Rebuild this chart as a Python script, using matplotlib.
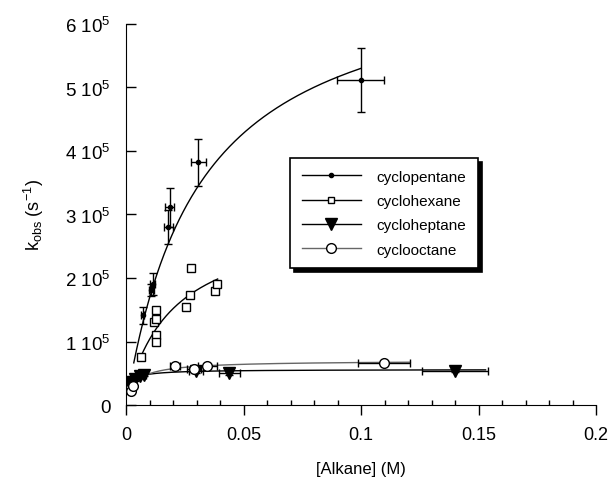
import numpy as np
import matplotlib
matplotlib.use("Agg")
import matplotlib.pyplot as plt
from matplotlib import ticker
from matplotlib.lines import Line2D

plt.rcParams['font.family'] = ['Liberation Sans', 'DejaVu Sans']
plt.rcParams['mathtext.fontset'] = 'custom'
plt.rcParams['mathtext.rm'] = 'Liberation Sans'
plt.rcParams['mathtext.it'] = 'Liberation Sans:italic'

# cyclopentane (with x and y error bars)
pent_x = [0.0071, 0.0108, 0.0113, 0.0180, 0.0187, 0.0308, 0.0999]
pent_y = [1.41e5, 1.81e5, 1.91e5, 2.80e5, 3.11e5, 3.82e5, 5.12e5]
pent_xerr = [0.0007, 0.0011, 0.0011, 0.0018, 0.0019, 0.0031, 0.0100]
pent_yerr = [0.13e5, 0.09e5, 0.17e5, 0.27e5, 0.31e5, 0.37e5, 0.50e5]

# cyclohexane
hex_x = [0.0065, 0.0118, 0.0129, 0.0129, 0.0129, 0.0129, 0.0254, 0.0272, 0.0278, 0.0377, 0.0389]
hex_y = [0.75e5, 1.30e5, 1.50e5, 1.36e5, 1.10e5, 1.00e5, 1.55e5, 1.74e5, 2.15e5, 1.80e5, 1.90e5]

# cycloheptane
hept_x = [0.0018, 0.0025, 0.0037, 0.0058, 0.0077, 0.0298, 0.0440, 0.1400]
hept_y = [0.33e5, 0.36e5, 0.41e5, 0.46e5, 0.48e5, 0.54e5, 0.51e5, 0.54e5]
hept_xerr = [0.0002, 0.0003, 0.0004, 0.0006, 0.0008, 0.0030, 0.0045, 0.0140]
hept_yerr = [0.03e5, 0.03e5, 0.03e5, 0.03e5, 0.02e5, 0.03e5, 0.03e5, 0.02e5]

# cyclooctane
oct_x = [0.0015, 0.0023, 0.0030, 0.0210, 0.0290, 0.0346, 0.1098]
oct_y = [0.25e5, 0.22e5, 0.30e5, 0.61e5, 0.56e5, 0.61e5, 0.66e5]
oct_xerr = [0.0002, 0.0002, 0.0003, 0.0021, 0.0029, 0.0040, 0.0110]
oct_yerr = [0.03e5, 0.03e5, 0.03e5, 0.03e5, 0.03e5, 0.03e5, 0.02e5]

# saturation fits k = k0 + a*x/(K + x): (k0, a, K, x_start, x_end)
pent_fit = (0.0, 6.96e5, 0.0313, 0.0033, 0.1)
hex_fit = (0.067e5, 2.9e5, 0.020, 0.0064, 0.039)
hept_fit = (0.30e5, 0.26e5, 0.004, 0.0012, 0.153)
oct_fit = (0.15e5, 0.55e5, 0.006, 0.0015, 0.121)

names = ['cyclopentane', 'cyclohexane', 'cycloheptane', 'cyclooctane']


def fit_curve(p):
    k0, a, K, x0, x1 = p
    xs = np.linspace(x0, x1, 300)
    return xs, k0 + a * xs / (K + xs)


fig = plt.figure(figsize=(6.12, 4.89), dpi=100)
ax = fig.add_axes([0.2059, 0.1697, 0.768, 0.7793])

for p, col in [(pent_fit, 'black'), (hex_fit, 'black'), (hept_fit, 'black'), (oct_fit, '#666666')]:
    xs, ys = fit_curve(p)
    ax.plot(xs, ys, color=col, lw=1.0)

ax.errorbar(pent_x, pent_y, xerr=pent_xerr, yerr=pent_yerr, fmt='o', ms=3,
            color='black', ecolor='black', elinewidth=1, capsize=3)
ax.plot(hex_x, hex_y, 's', ms=5.5, mfc='white', mec='black', mew=1)
ax.errorbar(hept_x, hept_y, xerr=hept_xerr, yerr=hept_yerr, fmt='v', ms=8,
            color='black', ecolor='black', elinewidth=1, capsize=3)
ax.errorbar(oct_x, oct_y, xerr=oct_xerr, yerr=oct_yerr, fmt='o', ms=7,
            mfc='white', mec='black', mew=1, ecolor='black', elinewidth=1, capsize=3)

ax.set_xlim(0, 0.2)
ax.set_ylim(0, 6e5)
ax.spines['top'].set_visible(False)
ax.spines['right'].set_visible(False)

ax.xaxis.set_major_locator(ticker.MultipleLocator(0.05))
ax.xaxis.set_minor_locator(ticker.MultipleLocator(0.01))
ax.xaxis.set_major_formatter(ticker.FuncFormatter(lambda v, p: '0' if v == 0 else f'{v:g}'))
ax.yaxis.set_major_locator(ticker.MultipleLocator(1e5))
ax.yaxis.set_major_formatter(ticker.FuncFormatter(
    lambda v, p: '0' if v == 0 else f'{int(round(v / 1e5))} 10$^5$'))
ax.tick_params(axis='x', which='major', direction='out', length=7, width=1, labelsize=13, pad=8)
ax.tick_params(axis='x', which='minor', direction='in', length=3.5, width=1)
ax.tick_params(axis='y', which='major', direction='in', length=7, width=1, labelsize=13.5, pad=11)

ax.set_xlabel('[Alkane] (M)', fontsize=12, labelpad=13)
ax.set_ylabel(r'k$_{\rm obs}$ (s$^{-1}$)', fontsize=13, labelpad=14)

handles = [
    Line2D([], [], color='black', lw=1, marker='o', ms=3),
    Line2D([], [], color='black', lw=1, marker='s', ms=5, mfc='white'),
    Line2D([], [], color='black', lw=1, marker='v', ms=8),
    Line2D([], [], color='#666666', lw=1, marker='o', ms=7, mfc='white', mec='black'),
]
leg = ax.legend(handles, names, loc='upper left', bbox_to_anchor=(0.349, 0.648),
                borderaxespad=0, fontsize=11, handlelength=3.9, handletextpad=1.0,
                labelspacing=0.68, borderpad=0.75, fancybox=False, framealpha=1,
                shadow={'color': 'black', 'alpha': 1, 'ox': 3, 'oy': -3})
leg.get_frame().set_edgecolor('black')
leg.get_frame().set_linewidth(1.2)

fig.savefig('out.png', dpi=100)
